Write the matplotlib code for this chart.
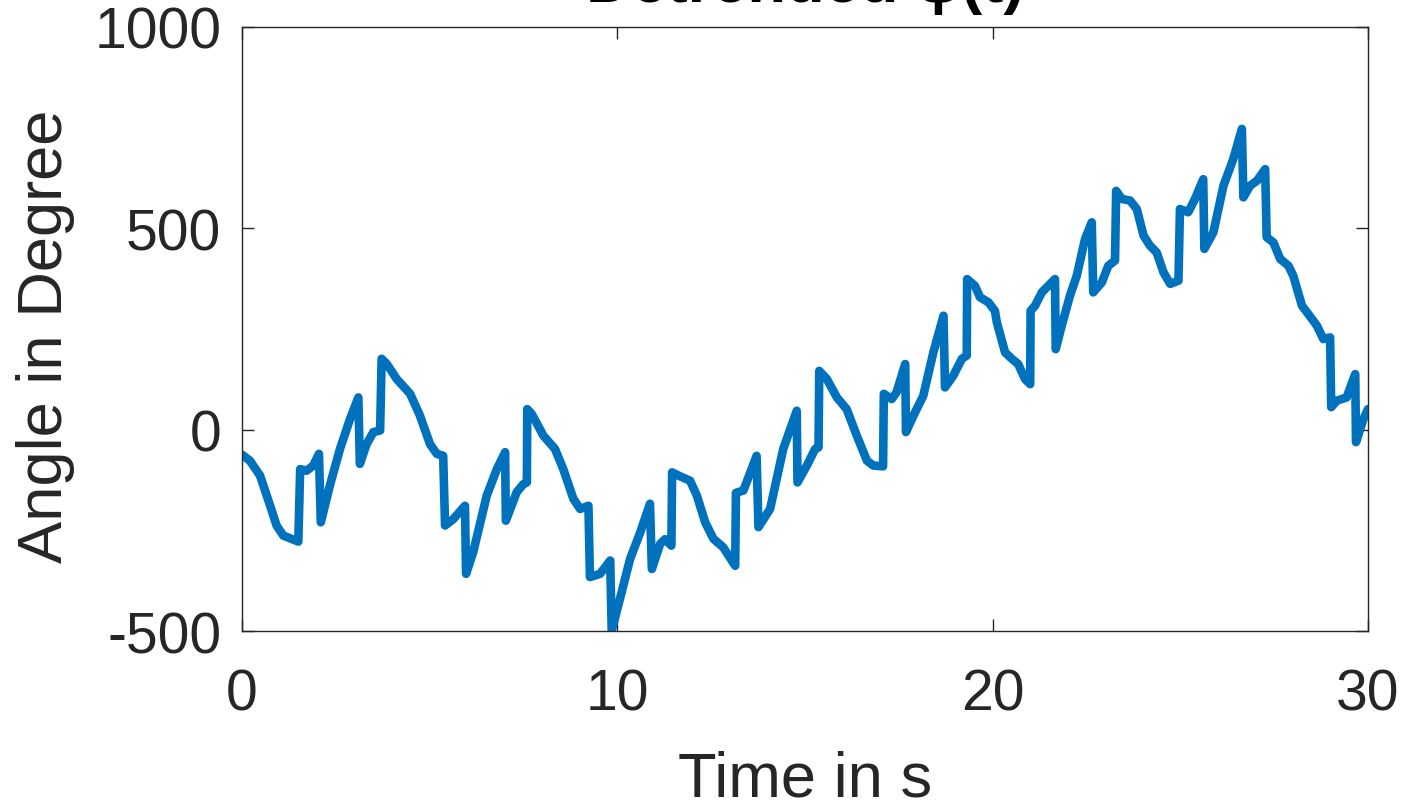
import matplotlib
matplotlib.use('Agg')
import matplotlib.pyplot as plt

# Detrended angle trace (time in s, angle in degree)
t = [0.00, 0.21, 0.48, 0.75, 0.92, 1.10, 1.50, 1.55, 1.72, 1.90, 2.05, 2.10,
     2.34, 2.61, 2.88, 3.10, 3.14, 3.32, 3.50, 3.68, 3.72, 3.86, 4.12, 4.48,
     4.74, 5.01, 5.19, 5.36, 5.41, 5.63, 5.94, 5.97, 6.16, 6.52, 6.79, 7.01,
     7.03, 7.32, 7.50, 7.59, 7.60, 7.72, 8.03, 8.34, 8.56, 8.83, 9.01, 9.23,
     9.27, 9.54, 9.81, 9.85, 10.07, 10.34, 10.61, 10.87, 10.92, 11.14, 11.27,
     11.44, 11.46, 11.63, 11.94, 12.12, 12.34, 12.56, 12.82, 13.14, 13.16,
     13.36, 13.71, 13.76, 14.07, 14.42, 14.78, 14.80, 15.05, 15.27, 15.36,
     15.38, 15.58, 15.85, 16.11, 16.38, 16.65, 16.82, 17.08, 17.10, 17.31,
     17.44, 17.67, 17.69, 17.89, 18.15, 18.42, 18.69, 18.73, 18.95, 19.18,
     19.31, 19.32, 19.53, 19.66, 19.89, 20.06, 20.11, 20.33, 20.51, 20.68,
     20.86, 21.00, 21.01, 21.13, 21.31, 21.48, 21.66, 21.68, 21.84, 22.06,
     22.24, 22.46, 22.64, 22.68, 22.91, 23.08, 23.26, 23.29, 23.44, 23.66,
     23.84, 24.02, 24.19, 24.37, 24.55, 24.73, 24.95, 24.99, 25.21, 25.39,
     25.61, 25.64, 25.88, 26.15, 26.41, 26.64, 26.68, 26.86, 27.04, 27.26,
     27.30, 27.48, 27.66, 27.88, 28.01, 28.24, 28.41, 28.64, 28.81, 28.99,
     29.02, 29.17, 29.43, 29.66, 29.68, 29.88, 30.00]
angle = [-62, -77, -114, -189, -238, -263, -278, -98, -102, -89, -60, -230,
         -139, -48, 27, 80, -85, -36, -6, -2, 176, 163, 126, 89,
         35, -36, -60, -65, -238, -222, -189, -358, -304, -164, -98, -56,
         -226, -155, -135, -131, 51, 39, -15, -48, -98, -172, -197, -189,
         -366, -358, -325, -499, -420, -321, -255, -184, -346, -284, -272,
         -288, -106, -114, -127, -164, -230, -271, -292, -338, -157,
         -151, -65, -242, -197, -48, 47, -131, -89, -48, -44,
         146, 126, 80, 51, -15, -77, -89, -91, 89, 76,
         93, 163, -6, 35, 84, 192, 283, 105, 134, 176,
         184, 374, 357, 329, 316, 295, 267, 192, 176, 163,
         126, 113, 295, 308, 341, 357, 374, 200, 258, 333,
         382, 473, 515, 341, 366, 407, 420, 593, 573, 569,
         548, 482, 457, 440, 391, 362, 370, 548, 540, 573,
         622, 449, 490, 606, 672, 747, 577, 606, 618, 647,
         478, 465, 424, 407, 382, 308, 287, 258, 225, 229,
         56, 72, 80, 138, -31, 27, 51]

xticks = [0, 10, 20, 30]
yticks = [-500, 0, 500, 1000]

plt.rcParams['font.family'] = ['Liberation Sans', 'DejaVu Sans']
plt.rcParams['axes.unicode_minus'] = False
dark = '#262626'

fig = plt.figure(figsize=(14.07, 8.03), dpi=100)
ax = fig.add_axes([242/1407, 1-632/803, 1126/1407, 604/803])
ax.plot(t, angle, color='#0072BD', linewidth=6.2, solid_joinstyle='round',
        solid_capstyle='round')
ax.set_xlim(0, 30)
ax.set_ylim(-500, 1000)
ax.set_xticks(xticks)
ax.set_yticks(yticks)
for s in ax.spines.values():
    s.set_color(dark)
    s.set_linewidth(1.0)
ax.tick_params(axis='both', direction='in', length=8.5, width=1.0, color=dark,
               labelcolor=dark, labelsize=41, top=True, right=True)
ax.tick_params(axis='x', pad=26)
ax.tick_params(axis='y', pad=15)

# title sits mostly above the top edge of the figure, as in the reference
ax.text(0.5, 1.043, 'Detrended φ(t)', transform=ax.transAxes, ha='center',
        va='baseline', fontsize=45.5, fontweight='bold', color='black')
fig.text(805/1407, 1-797/803, 'Time in s', ha='center', va='baseline',
         fontsize=45.5, color=dark)
fig.text(62/1407, 1-336/803, 'Angle in Degree', rotation=90,
         rotation_mode='anchor', ha='center', va='baseline',
         fontsize=45.5, color=dark)

fig.savefig('out.png', dpi=100)
